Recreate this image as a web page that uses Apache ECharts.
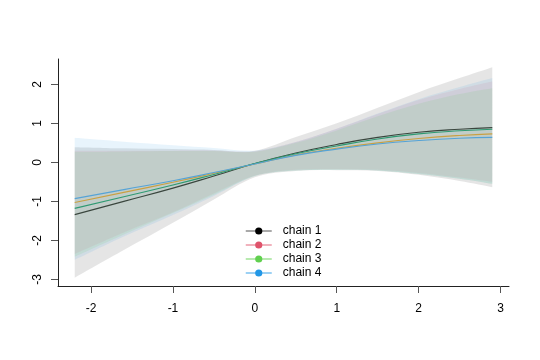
<!DOCTYPE html>
<html>
<head>
<meta charset="utf-8">
<script src="https://cdn.jsdelivr.net/npm/echarts@6/dist/echarts.min.js"></script>
<style>html,body{margin:0;padding:0;background:#fff}#c{width:540px;height:360px}</style>
</head>
<body>
<div id="c"></div>
<script>
const chainNames = ['chain 1', 'chain 2', 'chain 3', 'chain 4'];
const xs = [-2.2, -1.6, -1.0, -0.5, 0, 0.5, 1.0, 1.5, 2.0, 2.5, 2.9];
const xTicks = [-2, -1, 0, 1, 2, 3];
const yTicks = [-3, -2, -1, 0, 1, 2];

const mean1 = [-1.34, -1.0, -0.66, -0.35, -0.03, 0.24, 0.46, 0.64, 0.77, 0.85, 0.89];
const mean2 = [-1.03, -0.77, -0.51, -0.28, -0.04, 0.19, 0.36, 0.50, 0.61, 0.69, 0.73];
const mean3 = [-1.18, -0.88, -0.58, -0.31, -0.03, 0.22, 0.42, 0.60, 0.73, 0.81, 0.85];
const mean4 = [-0.93, -0.70, -0.47, -0.26, -0.04, 0.18, 0.34, 0.47, 0.56, 0.62, 0.64];

const upper1 = [0.39, 0.36, 0.34, 0.32, 0.30, 0.65, 1.0, 1.4, 1.8, 2.16, 2.44];
const lower1 = [-2.96, -2.25, -1.55, -0.95, -0.38, -0.22, -0.20, -0.22, -0.32, -0.48, -0.64];
const upper2 = [0.30, 0.30, 0.30, 0.30, 0.28, 0.52, 0.86, 1.24, 1.60, 1.88, 2.07];
const lower2 = [-2.35, -1.80, -1.28, -0.80, -0.34, -0.19, -0.17, -0.19, -0.27, -0.39, -0.50];
const upper3 = [0.27, 0.28, 0.29, 0.29, 0.27, 0.50, 0.82, 1.18, 1.50, 1.75, 1.90];
const lower3 = [-2.42, -1.85, -1.30, -0.83, -0.35, -0.21, -0.19, -0.21, -0.30, -0.42, -0.55];
const upper4 = [0.63, 0.53, 0.44, 0.37, 0.30, 0.52, 0.86, 1.25, 1.62, 1.93, 2.16];
const lower4 = [-2.50, -1.90, -1.35, -0.86, -0.35, -0.21, -0.19, -0.21, -0.30, -0.42, -0.55];

const means = [mean1, mean2, mean3, mean4];
const uppers = [upper1, upper2, upper3, upper4];
const lowers = [lower1, lower2, lower3, lower4];

const bandColors = ['rgba(0,0,0,0.10)', 'rgba(223,83,107,0.10)', 'rgba(97,208,79,0.12)', 'rgba(34,151,230,0.10)'];
const lineColors = ['#3a463e', '#c9a043', '#2f9a72', '#56a3d6'];
const legendDot = ['#000000', '#DF536B', '#61D04F', '#2297E6'];
const legendLine = ['rgba(0,0,0,0.45)', 'rgba(223,83,107,0.6)', 'rgba(97,208,79,0.6)', 'rgba(34,151,230,0.6)'];

// Catmull-Rom spline through pixel points -> bezier path segments
function splinePath(pts, start) {
  let d = start ? 'M' + pts[0][0] + ' ' + pts[0][1] : 'L' + pts[0][0] + ' ' + pts[0][1];
  for (let i = 0; i < pts.length - 1; i++) {
    const p0 = pts[Math.max(i - 1, 0)], p1 = pts[i], p2 = pts[i + 1], p3 = pts[Math.min(i + 2, pts.length - 1)];
    const c1 = [p1[0] + (p2[0] - p0[0]) / 6, p1[1] + (p2[1] - p0[1]) / 6];
    const c2 = [p2[0] - (p3[0] - p1[0]) / 6, p2[1] - (p3[1] - p1[1]) / 6];
    d += ' C' + c1[0] + ' ' + c1[1] + ' ' + c2[0] + ' ' + c2[1] + ' ' + p2[0] + ' ' + p2[1];
  }
  return d;
}

const series = [];
for (let c = 0; c < 4; c++) {
  series.push({
    name: 'band ' + (c + 1), type: 'custom', silent: true, z: 1,
    encode: { x: 0, y: [1, 2] },
    data: xs.map((x, i) => [x, uppers[c][i], lowers[c][i]]),
    renderItem: function (params, api) {
      if (params.dataIndex !== 0) return null;
      const up = xs.map((x, i) => api.coord([x, uppers[c][i]]));
      const lo = xs.map((x, i) => api.coord([x, lowers[c][i]])).reverse();
      const d = splinePath(up, true) + ' ' + splinePath(lo, false) + ' Z';
      return { type: 'path', shape: { pathData: d }, style: { fill: bandColors[c], stroke: null } };
    }
  });
}
for (let c = 0; c < 4; c++) {
  series.push({
    name: chainNames[c], type: 'line', smooth: true, symbol: 'circle', symbolSize: 7,
    showSymbol: false, color: legendDot[c],
    lineStyle: { color: lineColors[c], width: 1.1 },
    data: xs.map((x, i) => [x, means[c][i]]), z: 3
  });
}

const chart = echarts.init(document.getElementById('c'), null, { renderer: 'canvas' });
chart.setOption({
  animation: false,
  backgroundColor: '#ffffff',
  textStyle: { fontFamily: 'Liberation Sans, Arial, sans-serif' },
  grid: { left: 58, right: 31, top: 59, bottom: 74 },
  xAxis: {
    type: 'value', min: -2.404, max: 3.104,
    splitLine: { show: false },
    axisLine: { show: true, onZero: false, lineStyle: { color: '#222', width: 1 } },
    axisTick: { show: true, length: 7, lineStyle: { color: '#555' }, customValues: xTicks },
    axisLabel: { customValues: xTicks, color: '#000', fontSize: 12, margin: 17,
      fontFamily: 'Liberation Sans, Arial, sans-serif' }
  },
  yAxis: {
    type: 'value', min: -3.17, max: 2.65,
    splitLine: { show: false },
    axisLine: { show: true, onZero: false, lineStyle: { color: '#222', width: 1 } },
    axisTick: { show: true, length: 7, lineStyle: { color: '#555' }, customValues: yTicks },
    axisLabel: { customValues: yTicks, color: '#000', fontSize: 12, margin: 14, rotate: 90,
      fontFamily: 'Liberation Sans, Arial, sans-serif' }
  },
  legend: {
    orient: 'vertical', left: 240, top: 220, itemWidth: 26, itemHeight: 9, itemGap: 2,
    selectedMode: false,
    textStyle: { fontSize: 12, color: '#000', padding: [0, 0, 0, 6],
      fontFamily: 'Liberation Sans, Arial, sans-serif' },
    data: chainNames.map((n, c) => ({
      name: n,
      itemStyle: { color: legendDot[c] },
      lineStyle: { color: legendLine[c], width: 1.5 }
    }))
  },
  series: series
});
</script>
</body>
</html>
